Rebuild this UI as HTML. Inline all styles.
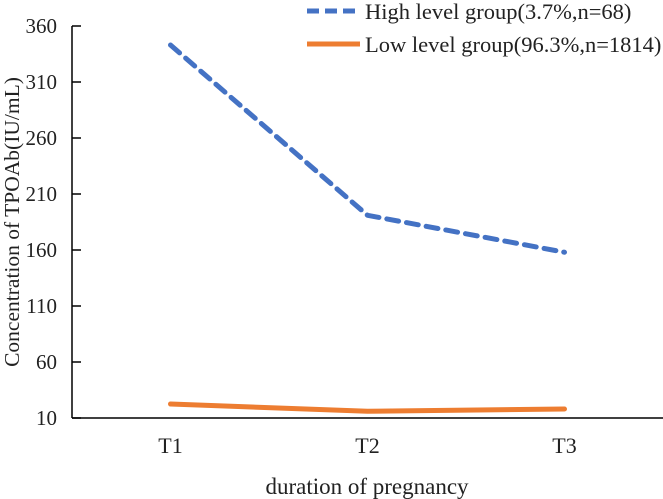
<!DOCTYPE html>
<html><head><meta charset="utf-8"><style>
html,body{margin:0;padding:0;background:#fff;}
svg{display:block;font-family:"Liberation Serif",serif;}
</style></head><body>
<svg width="663" height="499" viewBox="0 0 663 499">
<g id="axes"></g><g id="series"></g>
<g>
 <g>
  <line x1="307" y1="11" x2="360" y2="11" stroke="#4472C4" stroke-width="5" stroke-dasharray="12,6"/>
  <text x="365" y="19" font-size="22.5" fill="#222">High level group(3.7%,n=68)</text>
 </g>
 <g>
  <line x1="307" y1="44" x2="360" y2="44" stroke="#ED7D31" stroke-width="5"/>
  <text x="365" y="52" font-size="22.5" fill="#222">Low level group(96.3%,n=1814)</text>
 </g>
</g>
<text x="0" y="0" transform="translate(19,222) rotate(-90)" text-anchor="middle" font-size="21.5" fill="#222">Concentration of TPOAb(IU/mL)</text>
<text x="367" y="494" text-anchor="middle" font-size="23" fill="#222">duration of pregnancy</text>
</svg>
<script>
const categories=["T1","T2","T3"];
const highValues=[343,191,158];
const lowValues=[22.5,16,18];
const yTicks=[10,60,110,160,210,260,310,360];
const NS="http://www.w3.org/2000/svg";
const x0=72,x1=663,y0=418,yMin=10,yMax=360,yTop=26;
function xs(i){return x0+(x1-x0)/categories.length*(i+0.5);}
function ys(v){return y0-(v-yMin)/(yMax-yMin)*(y0-yTop);}
function mk(tag,attrs,parent){const e=document.createElementNS(NS,tag);for(const k in attrs)e.setAttribute(k,attrs[k]);parent.appendChild(e);return e;}
const axes=document.getElementById('axes');
const ya=mk('line',{x1:x0,y1:ys(yMax),x2:x0,y2:y0,stroke:'#000','stroke-width':1.5},axes);


const xa=mk('line',{x1:x0,y1:y0,x2:x1,y2:y0,stroke:'#000','stroke-width':1.5},axes);


yTicks.forEach(t=>{
 const tk=mk('line',{x1:x0,y1:ys(t),x2:x0+9,y2:ys(t),stroke:'#000','stroke-width':1.5},axes);
 
 
 const tl=mk('text',{x:57,y:ys(t)+7,'text-anchor':'end','font-size':21,fill:'#222'},axes);
 tl.textContent=t;
 
 
});
categories.forEach((c,i)=>{
 const tl=mk('text',{x:xs(i),y:453,'text-anchor':'middle','font-size':22,fill:'#222'},axes);
 tl.textContent=c;
 
 
});
const ser=document.getElementById('series');
const lowPts=lowValues.map((v,i)=>xs(i)+','+ys(v)).join(' ');
const lowL=mk('polyline',{points:lowPts,fill:'none',stroke:'#ED7D31','stroke-width':5,'stroke-linecap':'round','stroke-linejoin':'round'},ser);


const highPts=highValues.map((v,i)=>xs(i)+','+ys(v)).join(' ');
const highL=mk('polyline',{points:highPts,fill:'none',stroke:'#4472C4','stroke-width':5,'stroke-dasharray':'12,8','stroke-linecap':'round','stroke-linejoin':'round'},ser);


</script>
</body></html>
